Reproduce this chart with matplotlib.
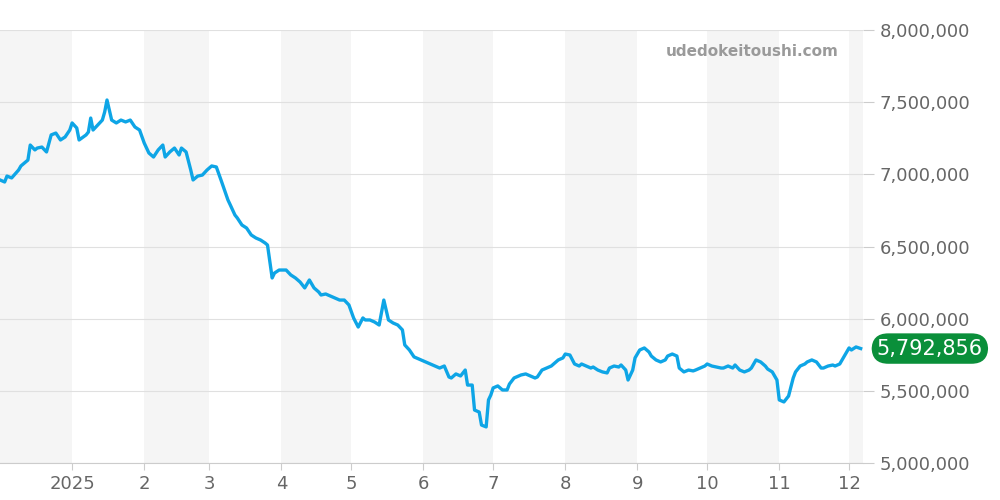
import matplotlib
matplotlib.use("Agg")
import matplotlib.pyplot as plt
import matplotlib.dates as mdates
import numpy as np
import datetime as dt

start = dt.date(2024, 12, 1)
days = [0, 2, 3, 5, 8, 9, 12, 13, 15, 16, 18, 20, 22, 24, 26, 28, 30, 31, 33, 34, 37, 38, 39, 40, 42, 44, 45, 46,
        48, 50, 52, 54, 56, 58, 60, 62, 64, 66, 68, 70, 71, 73, 75, 77, 78, 80, 82, 83, 85, 87, 89, 91, 93, 95, 98,
        99, 101, 102, 104, 106, 108, 110, 112, 114, 115, 117, 118, 120, 123, 125, 127, 129, 131, 133, 135, 137,
        138, 140, 142, 144, 146, 148, 150, 152, 154, 156, 157, 159, 161, 163, 165, 167, 169, 171, 173, 174, 176,
        178, 181, 183, 185, 187, 189, 191, 193, 194, 196, 198, 200, 201, 203, 204, 206, 207, 209, 210, 211, 212,
        214, 216, 218, 219, 221, 223, 224, 226, 228, 230, 231, 233, 235, 237, 238, 240, 242, 243, 245, 247, 249,
        250, 252, 254, 255, 257, 259, 261, 262, 264, 266, 267, 269, 270, 272, 273, 275, 277, 279, 280, 282, 284,
        286, 287, 289, 291, 292, 294, 296, 298, 299, 301, 303, 304, 306, 308, 310, 311, 313, 315, 316, 318, 320,
        322, 323, 325, 327, 329, 330, 332, 334, 335, 337, 339, 341, 342, 344, 346, 347, 349, 351, 353, 354, 356,
        358, 359, 361, 363, 365, 366, 368, 370]
prices = [6.961, 6.947, 6.988, 6.975, 7.030, 7.058, 7.099, 7.203, 7.169, 7.182, 7.189, 7.155, 7.273, 7.286, 7.238,
          7.259, 7.307, 7.356, 7.321, 7.238, 7.273, 7.293, 7.390, 7.307, 7.342, 7.376, 7.432, 7.515, 7.376, 7.356,
          7.376, 7.363, 7.376, 7.328, 7.307, 7.217, 7.148, 7.120, 7.169, 7.203, 7.120, 7.155, 7.182, 7.134, 7.182,
          7.155, 7.030, 6.961, 6.988, 6.995, 7.030, 7.058, 7.051, 6.961, 6.822, 6.788, 6.718, 6.698, 6.649, 6.628,
          6.580, 6.559, 6.545, 6.524, 6.510, 6.282, 6.316, 6.337, 6.337, 6.303, 6.282, 6.254, 6.213, 6.268, 6.213,
          6.185, 6.164, 6.171, 6.157, 6.143, 6.129, 6.129, 6.095, 6.005, 5.942, 6.005, 5.991, 5.991, 5.977, 5.956,
          6.129, 5.991, 5.970, 5.956, 5.922, 5.818, 5.783, 5.735, 5.714, 5.700, 5.686, 5.672, 5.658, 5.672, 5.596,
          5.589, 5.617, 5.603, 5.644, 5.540, 5.540, 5.367, 5.353, 5.263, 5.250, 5.437, 5.471, 5.520, 5.534, 5.506,
          5.506, 5.547, 5.589, 5.603, 5.610, 5.617, 5.603, 5.589, 5.596, 5.644, 5.658, 5.672, 5.686, 5.714, 5.728,
          5.755, 5.748, 5.686, 5.672, 5.686, 5.672, 5.658, 5.665, 5.644, 5.631, 5.624, 5.658, 5.672, 5.665, 5.679,
          5.644, 5.575, 5.644, 5.728, 5.783, 5.797, 5.769, 5.741, 5.714, 5.700, 5.714, 5.741, 5.755, 5.741, 5.658,
          5.631, 5.644, 5.638, 5.644, 5.658, 5.672, 5.686, 5.672, 5.665, 5.658, 5.658, 5.672, 5.658, 5.679, 5.644,
          5.631, 5.644, 5.658, 5.714, 5.700, 5.672, 5.651, 5.631, 5.575, 5.437, 5.423, 5.464, 5.589, 5.631, 5.672,
          5.686, 5.700, 5.714, 5.700, 5.658, 5.658, 5.672, 5.679, 5.672, 5.686, 5.741, 5.797, 5.783, 5.804, 5.793]
last_price = 5792856

n = min(len(days), len(prices))
dates = [start + dt.timedelta(days=d) for d in days[:n]]
vals = np.array(prices[:n]) * 1e6

fig = plt.figure(figsize=(10, 5), dpi=100)
ax = fig.add_axes([0, 0.074, 0.863, 0.866])
ax.plot(dates, vals, color="#0ea5e6", lw=2.4, zorder=3)

x0, x1 = dt.date(2024, 12, 1), dt.date(2025, 12, 7)
ax.set_xlim(x0, x1)
ax.set_ylim(5e6, 8e6)

# shaded alternating months
for m in range(-1, 12, 2):
    a = dt.date(2024 + (m + 11) // 12, (m + 11) % 12 + 1, 1) if m >= 0 else dt.date(2024, 12, 1)
    if m < 0:
        a, b = dt.date(2024, 12, 1), dt.date(2025, 1, 1)
    else:
        a = dt.date(2025, m + 1, 1)
        b = dt.date(2025, m + 2, 1) if m + 2 <= 12 else x1
    ax.axvspan(a, b, color="#f5f5f5", zorder=0, lw=0)
ax.axvspan(dt.date(2025, 12, 1), x1, color="#f5f5f5", zorder=0, lw=0)

ax.yaxis.tick_right()
ax.set_yticks(np.arange(5e6, 8.01e6, 5e5))
ax.set_yticklabels([f"{int(v):,}" for v in np.arange(5e6, 8.01e6, 5e5)])
ax.grid(axis="y", color="#e0e0e0", lw=0.8, zorder=1)
ticks = [dt.date(2025, m, 1) for m in range(1, 13)]
ax.set_xticks(ticks)
ax.set_xticklabels(["2025"] + [str(m) for m in range(2, 13)])
ax.tick_params(colors="#666666", labelsize=13, length=5)
ax.tick_params(axis="y", length=8, color="#cccccc", pad=4)
ax.tick_params(axis="x", color="#cccccc")
for s in ["top", "left", "right"]:
    ax.spines[s].set_visible(False)
ax.spines["bottom"].set_color("#cccccc")

ax.text(0.972, 0.95, "udedokeitoushi.com", transform=ax.transAxes, ha="right", va="center",
        fontsize=11, fontweight="bold", color="#9a9a9a")
ax.text(1.016, (last_price - 5e6) / 3e6, f"{last_price:,}", transform=ax.transAxes, ha="left", va="center",
        fontsize=15, color="white",
        bbox=dict(boxstyle="round,pad=0.25,rounding_size=0.8", fc="#0a8f3a", ec="none"))

fig.savefig("out.png")
